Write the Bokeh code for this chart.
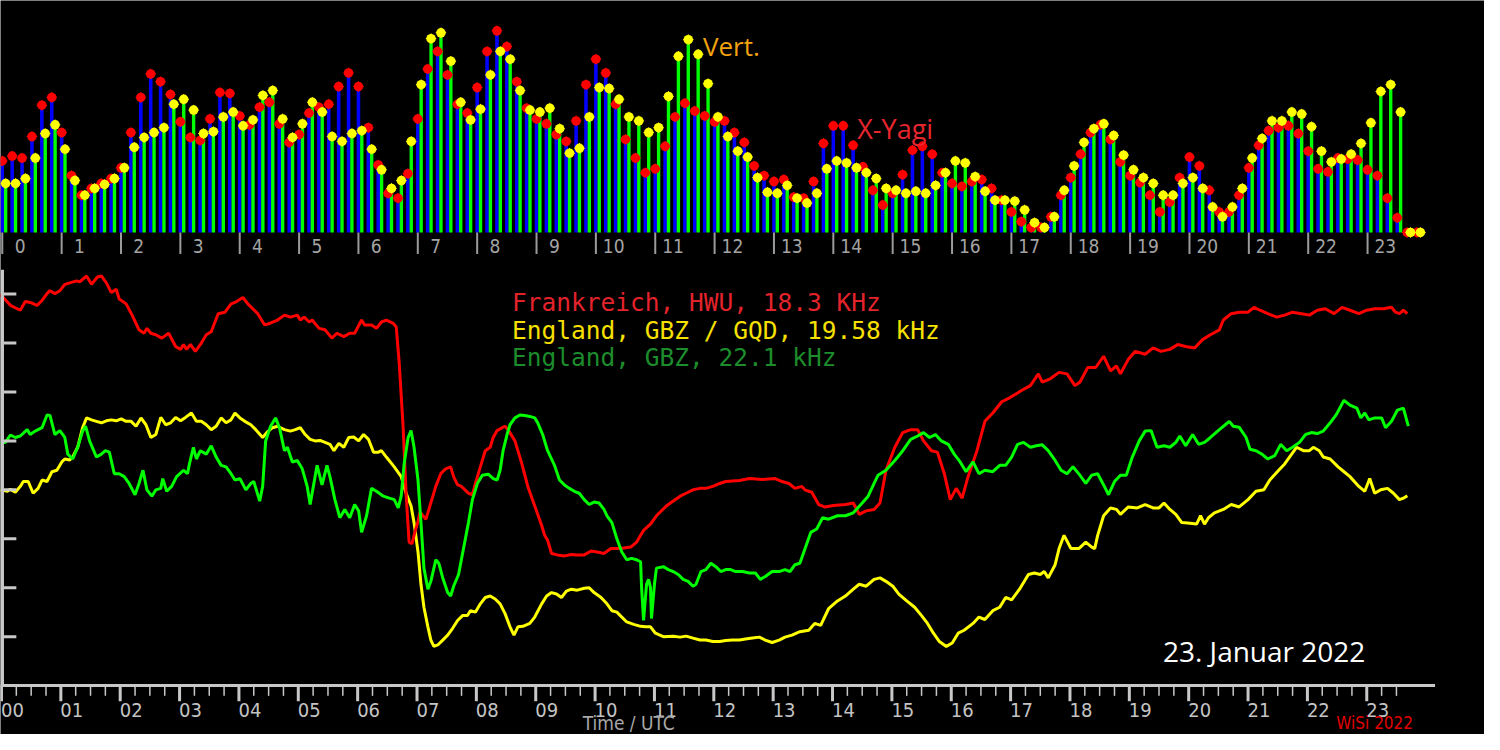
from bokeh.plotting import figure
from bokeh.models import Range1d, ColumnDataSource
from bokeh.transform import dodge
from bokeh.core.properties import value
from bokeh.embed import file_html
from bokeh.resources import INLINE

# ---------------- data ----------------
# top panel: signal level per 10-minute slot (X-Yagi antenna and vertical antenna)
slot_min = list(range(0, 1440, 10))
yagi = [73, 78, 76, 98, 130, 138, 102, 58, 38, 45,
        50, 55, 66, 102, 138, 162, 154, 141, 113, 97,
        94, 116, 143, 142, 119, 110, 128, 133, 111, 92,
        100, 122, 128, 131, 149, 163, 149, 107, 69, 40,
        35, 60, 116, 167, 185, 161, 131, 122, 148, 185,
        206, 190, 154, 127, 116, 111, 100, 93, 114, 151,
        177, 163, 131, 95, 76, 61, 65, 88, 118, 132,
        124, 119, 113, 114, 102, 92, 68, 58, 52, 54,
        36, 35, 52, 91, 109, 109, 89, 67, 43, 28,
        40, 59, 84, 88, 80, 61, 50, 47, 52, 54,
        45, 33, 21, 11, 5, 5, 16, 38, 56, 80,
        102, 110, 95, 72, 58, 51, 38, 21, 31, 56,
        77, 68, 43, 21, 21, 38, 66, 89, 104, 107,
        109, 101, 83, 65, 62, 76, 75, 74, 64, 58,
        35, 15, 0, 0]
vert = [50, 50, 55, 76, 101, 110, 85, 53, 38, 45,
        49, 55, 66, 87, 97, 102, 107, 131, 136, 125,
        101, 103, 118, 123, 109, 115, 140, 145, 116, 97,
        111, 133, 123, 98, 93, 101, 104, 85, 64, 45,
        53, 93, 151, 198, 204, 175, 133, 115, 126, 161,
        185, 177, 145, 125, 123, 127, 106, 81, 86, 118,
        148, 147, 136, 118, 114, 102, 107, 139, 180, 197,
        182, 152, 118, 98, 83, 77, 56, 41, 40, 48,
        35, 30, 40, 65, 73, 71, 66, 61, 55, 45,
        43, 40, 42, 40, 48, 61, 73, 71, 57, 42,
        33, 33, 32, 23, 10, 5, 16, 43, 68, 92,
        106, 111, 99, 79, 64, 56, 50, 38, 38, 50,
        56, 45, 26, 16, 26, 45, 76, 96, 114, 114,
        123, 121, 108, 83, 72, 75, 80, 91, 112, 144,
        151, 123, 0, 0]

# lower panel: received level (time in minutes UTC, level)
hwu_pts = [(0,79.9),(10,77.7),(20,76.7),(25,78.5),(30,78.3),(37,77.7),(42,78.7),(47,80.1),(50,80.7),(55,80.1),
    (60,80.7),(65,82),(70,82.3),(77,82.7),(80,82.5),(87,83.7),(92,82),(98,83.5),(102,83.7),(107,82.3),
    (112,80.3),(117,81),(120,79),(127,78),(133,75.7),(140,72.7),(145,72),(148,73),(152,72),(157,71.7),
    (163,71),(170,72),(177,69.3),(182,68.7),(185,69.7),(188,68.7),(192,69.7),(197,68.3),(203,70),(208,71.7),
    (213,72.3),(220,76),(227,76.3),(233,78),(237,78.3),(245,79.3),(250,78),(260,76),(267,73.7),(272,74),
    (280,74.7),(287,75.7),(293,75.3),(300,75.7),(303,74.7),(307,75.3),(312,74.3),(315,74.7),(322,73),(328,72.7),
    (335,71),(340,72),(347,71.3),(353,72),(358,72),(365,74.7),(368,73.7),(375,73.7),(380,73),(385,74.3),
    (390,74.7),(397,74),(400,73.3),(403,66),(407,52.7),(410,39),(413,29.3),(416,29),(419,31.5),(422,33.5),
    (424,35.5),(427,34.7),(430,34),(433,36),(440,40.7),(445,43.3),(450,44.3),(455,44.7),(458,42.7),(462,41),
    (465,40.8),(468,40.3),(473,39.3),(477,39),(480,41.3),(485,44.7),(490,48),(495,48.7),(498,50.7),(502,52.1),
    (507,52.7),(510,53),(513,52.3),(520,50),(527,45.3),(533,40.7),(540,36.7),(547,32.7),(550,30.7),(553,29.7),
    (557,27),(563,26.7),(570,26.5),(577,26.8),(583,26.7),(590,26.7),(597,27.5),(603,27.3),(610,27),(617,28),
    (623,28),(630,28.1),(637,28.3),(643,29.3),(647,30.7),(650,31.7),(657,33),(663,34.7),(673,36.7),(680,37.7),
    (687,38.7),(693,39.3),(700,40),(707,40.3),(713,40.3),(720,40.7),(727,41.3),(733,41.7),(747,41.9),(757,42.3),
    (770,42.1),(783,42.3),(790,41.7),(797,41.3),(803,40.3),(810,40.7),(813,40),(820,39.5),(827,37),(833,36.5),
    (842,36.8),(854,37),(862,37.3),(868,35),(875,35.7),(883,36),(889,37.3),(895,44),(904,48.7),(912,51.7),
    (920,52.3),(927,52.3),(933,50),(941,48),(947,47.7),(954,43.3),(960,38),(966,40.3),(972,38.3),(978,42.7),
    (987,48),(995,54),(1003,55.7),(1012,58),(1020,58.8),(1032,60.3),(1041,61.3),(1049,63.7),(1053,62),(1061,62.7),
    (1070,64),(1078,63.7),(1086,61.3),(1091,62),(1099,65),(1107,65),(1115,67.3),(1122,64.3),(1128,65.3),(1132,63.7),
    (1140,66.7),(1147,68.3),(1157,67.7),(1165,69),(1173,68.3),(1182,68.7),(1190,69.7),(1198,69.3),(1207,69),(1215,70.7),
    (1223,71.7),(1232,72.7),(1236,74.7),(1244,76),(1252,76.3),(1261,76.3),(1267,77.3),(1273,76.7),(1281,76),(1290,75.3),
    (1298,75.7),(1306,76.3),(1315,76),(1323,75.7),(1331,76.7),(1339,77),(1348,76),(1356,77.3),(1364,76.7),(1373,76),
    (1381,76.7),(1389,77),(1398,77),(1406,77.3),(1410,76.3),(1414,76),(1418,76.7),(1422,76)]

gqd_pts = [(0,40),(7,39.7),(10,40.1),(15,39.5),(20,40.7),(23,41.7),(28,41.7),(33,39.3),(38,40.3),(42,42),
    (47,41.7),(52,43.7),(57,44),(62,45.7),(65,46.3),(70,46.1),(73,46.7),(78,48.7),(83,52.7),(87,54.7),
    (92,54.3),(97,54),(102,53.7),(107,54.1),(112,54.3),(117,54.1),(122,54.5),(127,54),(132,54),(137,53),
    (142,54.7),(147,53.3),(152,50.7),(157,51.3),(162,54.8),(167,53.3),(172,53.7),(177,54.8),(182,54.1),(187,54.8),
    (193,55.7),(198,54),(203,54),(208,53.3),(213,52.3),(218,53),(223,54.7),(228,53.7),(233,54.3),(237,55.7),
    (242,54.7),(247,54),(253,53.3),(258,52.3),(265,50.7),(270,51.9),(275,52.7),(280,53),(287,52.3),(293,52),
    (298,52.3),(303,52.7),(308,51.3),(313,50.3),(318,50),(323,50.1),(328,49.7),(333,49.3),(337,48),(342,49.5),
    (347,48.7),(352,50.7),(357,50.8),(362,50),(367,51.3),(372,50.3),(377,47.7),(382,47.7),(385,48),(390,46.7),
    (398,44.7),(405,42.7),(410,39.3),(415,36.7),(418,33.3),(422,27.3),(425,20.7),(428,16),(432,12),(435,9.3),
    (438,8),(442,8.3),(447,9.3),(452,10.3),(457,11.7),(462,13.3),(467,14.3),(472,14.3),(475,15.3),(480,15),
    (485,16.7),(490,18),(495,18.3),(500,17.7),(505,16.7),(510,14.7),(515,12),(519,10.3),(523,12),(528,12.1),
    (535,12.7),(540,14),(547,16.7),(552,18.3),(557,19),(562,18.7),(567,18),(572,19.3),(577,19.7),(583,19.5),
    (590,19.9),(595,20),(600,19),(607,18),(613,16.7),(618,15.3),(623,15),(628,14),(633,13),(640,12.5),
    (647,12.1),(652,12),(657,12),(662,10.7),(670,10),(680,10.1),(687,9.9),(693,10.1),(700,9.7),(707,9.3),
    (713,9.3),(720,9),(727,9),(733,9.2),(740,9.3),(747,9.3),(753,9.5),(760,9.7),(767,9.9),(773,9.3),
    (780,8.8),(787,9.3),(793,9.9),(800,10.3),(808,11),(817,11.3),(823,12.7),(829,12.3),(837,15.7),(846,17.3),
    (854,18.3),(862,19.7),(868,20.7),(875,20.3),(883,21.7),(889,22),(895,21.3),(902,20.3),(908,18.7),(916,17.3),
    (924,16),(931,14.3),(937,12.7),(943,10.7),(949,9),(956,8),(962,8.7),(968,10.7),(974,11.3),(983,12.7),
    (989,14),(995,13.5),(1003,15.3),(1010,16),(1016,18),(1022,17.5),(1030,19.7),(1039,22.7),(1045,23),(1051,22.7),
    (1055,23.3),(1059,22),(1066,24.7),(1070,28),(1075,30.7),(1082,28),(1090,28),(1097,29.3),(1103,28.3),(1106,28),
    (1109,30.7),(1115,34.7),(1122,36.3),(1128,36),(1132,35),(1140,36.5),(1149,36.3),(1157,37),(1165,36.3),(1171,36.3),
    (1176,37.3),(1182,36),(1188,35),(1194,33.3),(1200,33.2),(1209,33),(1213,34.7),(1217,33),(1221,34.3),(1227,35.3),
    (1236,36),(1244,37),(1252,36.5),(1261,38),(1269,39.7),(1277,40),(1283,42),(1292,44),(1298,45.3),(1304,47),
    (1310,48.7),(1317,48),(1323,48),(1327,48.7),(1333,48),(1337,46.7),(1344,46.3),(1352,44.7),(1358,43.7),(1364,42.7),
    (1373,40.7),(1379,39.7),(1384,42.3),(1389,39.3),(1395,40),(1402,40.3),(1408,39.3),(1414,38),(1418,38.3),(1422,38.8)]

gbz_pts = [(0,49.5),(5,49.7),(10,51.2),(15,50.7),(20,51),(27,52.3),(30,51.3),(35,52),(42,52.7),(47,55.3),
    (50,55.2),(55,51.3),(60,52.1),(65,50.7),(68,47.3),(73,46.3),(78,48.7),(83,52),(86,53),(90,50),
    (97,46.7),(102,47.3),(106,48),(110,47.7),(115,43.3),(120,43.3),(125,42.7),(130,41.3),(136,39),(140,41.3),
    (144,44),(148,40),(153,38.7),(157,40),(162,40.3),(164,42.3),(168,39.7),(173,40.7),(178,42.7),(185,44),
    (189,43.3),(191,45.3),(195,48.7),(198,46.3),(202,48),(208,47.3),(213,49),(218,46.7),(223,45),(228,44.7),
    (233,43.3),(237,42),(242,42.3),(248,40),(253,41.3),(256,41.7),(262,37.7),(265,40.7),(268,50),(273,53),
    (278,54.7),(282,52.7),(287,48),(290,48.7),(295,45.7),(300,46),(305,44.3),(310,40.7),(313,37),(320,45),
    (325,41),(330,45),(333,42.7),(338,38),(343,34.3),(348,36),(353,34.3),(358,37),(362,35.7),(365,31.3),
    (370,34.7),(375,40.3),(380,39.7),(387,38.7),(393,38.3),(398,38),(402,36.3),(405,38.7),(408,45.3),(412,50.7),
    (415,52.1),(418,48.7),(422,42),(425,33.3),(428,24),(432,19.7),(435,21.3),(440,25.7),(443,25),(447,22),
    (452,19),(455,18.3),(458,20.3),(463,22.7),(468,28),(473,33.3),(477,38),(482,41.3),(487,43),(493,43.2),
    (498,42.3),(502,42),(505,44),(508,48),(512,51.3),(515,53.3),(520,54.7),(525,55.3),(530,55.2),(535,55),
    (540,54.7),(543,53.7),(548,51.3),(553,48),(560,45),(565,42),(570,41),(575,40.3),(580,39.7),(585,39.3),
    (590,38),(595,37),(600,37.5),(605,37.3),(610,36),(613,34.7),(618,33.3),(623,30),(628,27.3),(633,25.7),
    (638,26),(643,25.7),(647,25.3),(648,20),(650,13.3),(653,20.7),(655,21.7),(657,20),(658,13.7),(661,20.7),
    (663,24),(670,24.3),(675,23.7),(680,23.3),(685,22.7),(690,21.7),(695,21.3),(700,20.3),(703,20.7),(708,23.3),
    (713,23.7),(718,25),(723,24.3),(728,23.3),(733,23.7),(738,23.7),(743,23.3),(750,23.3),(757,23),(763,23),
    (768,21.7),(773,22.3),(780,23.3),(787,23.3),(793,23.7),(798,23.3),(803,24.7),(808,25),(812,27.3),(819,31.3),
    (825,32),(831,34.3),(837,34),(846,34.7),(854,34.7),(862,35.3),(871,37.3),(877,38.7),(883,41.3),(887,43),
    (895,44),(904,46),(912,48),(920,50.3),(927,51),(933,51.7),(939,50.7),(945,51.3),(951,50),(958,49.3),
    (964,47.3),(970,45.7),(976,43.7),(983,45.7),(989,43.3),(995,44),(1003,43.7),(1010,45),(1016,45),(1022,46.7),
    (1028,49.3),(1034,49.7),(1041,48.7),(1047,49),(1053,49.2),(1059,48),(1066,46),(1072,44),(1078,43.3),(1084,44.7),
    (1091,43),(1097,41.3),(1103,43),(1109,43.3),(1115,41),(1120,39),(1126,41.7),(1132,43),(1138,43),(1144,46.7),
    (1151,50),(1157,52),(1163,52.1),(1169,48.7),(1176,49),(1182,48.7),(1188,49.7),(1192,51),(1198,49),(1205,51.3),
    (1211,49.3),(1217,49.7),(1223,50.7),(1232,52.3),(1238,53.3),(1242,54),(1246,53),(1252,52.8),(1259,50.7),(1263,48.3),
    (1269,48),(1275,47.3),(1281,46.3),(1288,47),(1294,49.3),(1300,48),(1306,48.7),(1313,49.7),(1319,51.3),(1325,51.7),
    (1331,51.5),(1337,52),(1344,53.7),(1350,55.3),(1358,58.3),(1364,57.3),(1371,56.7),(1375,54.7),(1379,55.7),(1383,54.3),
    (1389,54.7),(1396,54.7),(1400,52.7),(1406,54),(1412,56.3),(1418,56.7),(1423,53)]

series_names = ["Frankreich, HWU, 18.3 KHz", "England, GBZ / GQD, 19.58 kHz", "England, GBZ, 22.1 kHz"]
hour_min = [0, 60, 120, 180, 240, 300, 360, 420, 480, 540, 600, 660, 720, 780, 840, 900,
            960, 1020, 1080, 1140, 1200, 1260, 1320, 1380]
top_labels = ["0", "1", "2", "3", "4", "5", "6", "7", "8", "9", "10", "11", "12", "13", "14", "15",
              "16", "17", "18", "19", "20", "21", "22", "23"]
bottom_labels = ["00", "01", "02", "03", "04", "05", "06", "07", "08", "09", "10", "11", "12", "13",
                 "14", "15", "16", "17", "18", "19", "20", "21", "22", "23"]
minor_min = [m for m in range(15, 1411, 15) if m % 60 != 0]
level_ticks = [10, 20, 30, 40, 50, 60, 70, 80]
axis_end_min = 1450
level_axis_top = 85

# ---------------- figure ----------------
p = figure(width=1484, height=734, x_range=Range1d(0, 1500), y_range=Range1d(-10, 140),
           output_backend="svg", toolbar_location=None, x_axis_type=None, y_axis_type=None,
           min_border=0, background_fill_color="black", border_fill_color="black",
           outline_line_color=None)
p.title.visible = False
p.extra_y_ranges = {"bars": Range1d(-513, 237)}

GRAY = "#c8c8c8"

# ---- top panel ----
src = ColumnDataSource(dict(t=slot_min, yagi=yagi, vert=vert))
bx = dodge("t", 1.8, range=p.x_range)
gx = dodge("t", 5.2, range=p.x_range)
p.vbar(x=bx, top="yagi", bottom=0, width=3.6, fill_color="#0000ff", line_color=None,
       y_range_name="bars", source=src)
p.vbar(x=gx, top="vert", bottom=0, width=3.4, fill_color="#00ff00", line_color=None,
       y_range_name="bars", source=src)
p.scatter(x=bx, y="yagi", marker="cross", size=10.5, line_color="#ff0000", line_width=1,
          y_range_name="bars", source=src)
p.scatter(x=bx, y="yagi", size=9.5, fill_color="#ff0000", line_color=None, y_range_name="bars", source=src)
p.scatter(x=gx, y="vert", marker="cross", size=10.5, line_color="#ffff00", line_width=1,
          y_range_name="bars", source=src)
p.scatter(x=gx, y="vert", size=9.5, fill_color="#ffff00", line_color=None, y_range_name="bars", source=src)

tsrc = ColumnDataSource(dict(t=hour_min, lab=top_labels, y0=[0] * 24, y1=[-22] * 24, yl=[-14] * 24))
p.segment(x0=dodge("t", 1.8), y0="y0", x1=dodge("t", 1.8), y1="y1", line_color="#9a9a9a",
          line_width=2, y_range_name="bars", source=tsrc)
p.text(x=dodge("t", 19.8), y="yl", text="lab", text_align="center", text_baseline="middle",
       text_color="#a4a4a4", text_font=value("DejaVu Sans Condensed"), text_font_size="19px",
       y_range_name="bars", source=tsrc)

p.text(x=[710], y=[191], text=["Vert."], text_color="#f2a30f", text_font=value("Open Sans"),
       text_font_size="26px", text_baseline="middle", y_range_name="bars")
p.text(x=[866], y=[106], text=["X-Yagi"], text_color="#e8262e", text_font=value("Open Sans"),
       text_font_size="27px", text_baseline="middle", y_range_name="bars")

# ---- lower panel ----
for pts, col in ((gqd_pts, "#ffff00"), (hwu_pts, "#ff0000"), (gbz_pts, "#00ff00")):
    xs = [a for a, b in pts]
    ys = [b for a, b in pts]
    p.line(xs, ys, line_color=col, line_width=3)

p.text(x=[517, 517, 517], y=[78.2, 72.6, 67.0], text=series_names,
       text_color=["#e3232b", "#f7e000", "#1c8c2c"], text_font=value("DejaVu Sans Mono"),
       text_font_size="24.5px", text_baseline="middle")

p.text(x=[1175], y=[7], text=["23. Januar 2022"], text_color="white", text_font=value("Open Sans"),
       text_font_size="28px", text_baseline="middle")

# bottom time axis
p.segment(x0=[0], y0=[0], x1=[axis_end_min], y1=[0], line_color=GRAY, line_width=3)
bsrc = ColumnDataSource(dict(t=hour_min, lab=bottom_labels, y0=[0] * 24, y1=[-3.2] * 24, yl=[-4.9] * 24))
p.segment(x0=dodge("t", 1), y0="y0", x1=dodge("t", 1), y1="y1", line_color=GRAY, line_width=3, source=bsrc)
msrc = ColumnDataSource(dict(t=minor_min, y0=[0] * len(minor_min), y1=[-2.1] * len(minor_min)))
p.segment(x0=dodge("t", 1), y0="y0", x1=dodge("t", 1), y1="y1", line_color=GRAY, line_width=1.5, source=msrc)
p.text(x=dodge("t", 0.5), y="yl", text="lab", text_align="left", text_baseline="middle",
       text_color="#c4c4c4", text_font=value("DejaVu Sans Condensed"), text_font_size="20px", source=bsrc)
p.text(x=[635], y=[-7.6], text=["Time / UTC"], text_align="center", text_baseline="middle",
       text_color="#a8a8a8", text_font=value("DejaVu Sans Condensed"), text_font_size="19px")
p.text(x=[1389], y=[-7.6], text=["WiSi 2022"], text_align="center", text_baseline="middle",
       text_color="#e00000", text_font=value("DejaVu Sans Condensed"), text_font_size="17px")

# left level axis (unlabelled)
p.segment(x0=[2], y0=[0], x1=[2], y1=[level_axis_top], line_color=GRAY, line_width=3)
lsrc = ColumnDataSource(dict(y=level_ticks, x0=[2] * 8, x1=[16] * 8))
p.segment(x0="x0", y0="y", x1="x1", y1="y", line_color=GRAY, line_width=3, source=lsrc)

open("out.html", "w").write(file_html(p, INLINE))
